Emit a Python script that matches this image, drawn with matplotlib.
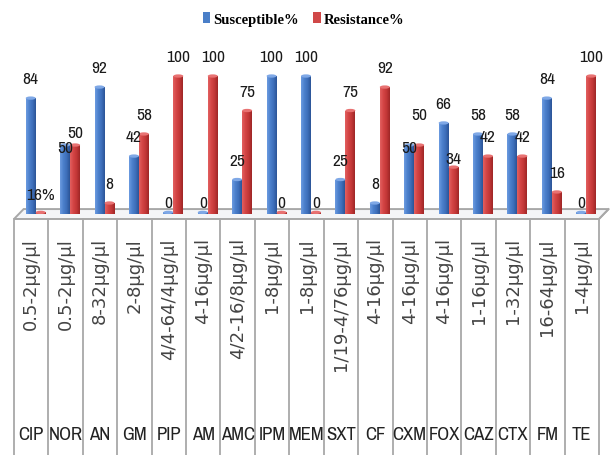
import numpy as np
import matplotlib
matplotlib.use("Agg")
import matplotlib.pyplot as plt
from matplotlib.colors import LinearSegmentedColormap
from matplotlib.patches import Polygon, Ellipse, Patch

# ---------------- DATA ----------------
drugs = ["CIP", "NOR", "AN", "GM", "PIP", "AM", "AMC", "IPM", "MEM",
         "SXT", "CF", "CXM", "FOX", "CAZ", "CTX", "FM", "TE"]
ranges = ["0.5-2µg/µl", "0.5-2µg/µl", "8-32µg/µl", "2-8µg/µl", "4/4-64/4µg/µl",
          "4-16µg/µl", "4/2-16/8µg/µl", "1-8µg/µl", "1-8µg/µl", "1/19-4/76µg/µl",
          "4-16µg/µl", "4-16µg/µl", "4-16µg/µl", "1-16µg/µl", "1-32µg/µl",
          "16-64µg/µl", "1-4µg/µl"]
susceptible = [84, 50, 92, 42, 0, 0, 25, 100, 100, 25, 8, 50, 66, 58, 58, 84, 0]
resistance = [0, 50, 8, 58, 100, 100, 75, 0, 0, 75, 92, 50, 34, 42, 42, 16, 100]
sus_text = [str(v) for v in susceptible]
res_text = ["16%"] + [str(v) for v in resistance[1:]]

# ---------------- STYLE ----------------
blue_cmap = LinearSegmentedColormap.from_list("b", ["#6C9BE0", "#4C80CC", "#3E6FBA", "#2B5497"])
red_cmap = LinearSegmentedColormap.from_list("r", ["#E26060", "#D44545", "#C23737", "#9E2626"])
blue_cap = "#7FA8E6"
red_cap = "#E87272"
narrow = ["Archivo Narrow", "DejaVu Sans"]
grid_col = "#A8A8A8"

bar_w = 0.29
shift = 0.13
label_dy = 14
zero_dy = 8
blue_dy = {1: -2, 11: -2}
red_dy = {1: 9, 11: 22, 12: 6}

fig = plt.figure(figsize=(6.13, 4.56), dpi=100)
ax = fig.add_axes([0, 0, 1, 1])
ax.axis("off")

x = np.arange(len(drugs))
xb = x + shift - bar_w / 2
xr = x + shift + bar_w / 2

grad = np.linspace(0, 1, 64).reshape(1, -1)


def cyl_bars(xs, vals, cmap, cap):
    hs = [max(v, 1.2) for v in vals]
    bars = ax.bar(xs, hs, bar_w, color=cmap(0.5), linewidth=0, zorder=3)
    for b, xx, h in zip(bars, xs, hs):
        im = ax.imshow(grad, extent=(xx - bar_w / 2, xx + bar_w / 2, 0, h),
                       cmap=cmap, aspect="auto", zorder=3.5, interpolation="bilinear")
        im.set_clip_path(b)
        ax.add_patch(Ellipse((xx, h), bar_w, 2.4, facecolor=cap, edgecolor="none", zorder=4))


# floor
floor_front = -3.6
floor_back = 3.6
depth = 0.28
ax.add_patch(Polygon([(-0.5, floor_front), (16.5, floor_front),
                      (16.5 + depth, floor_back), (-0.5 + depth, floor_back)],
                     closed=True, facecolor="#F4F5F7", edgecolor=grid_col, lw=1.4, zorder=1))

cyl_bars(xb, susceptible, blue_cmap, blue_cap)
cyl_bars(xr, resistance, red_cmap, red_cap)

# data labels
for i in range(len(drugs)):
    dy = blue_dy.get(i, zero_dy if susceptible[i] == 0 else label_dy)
    ax.text(xb[i], susceptible[i] + dy, sus_text[i], ha="center", va="center",
            fontsize=12.5, family=narrow, color="#1A1A1A", zorder=6)
    dy = red_dy.get(i, label_dy if resistance[i] != 0 or i == 0 else zero_dy)
    ax.text(xr[i], resistance[i] + dy, res_text[i], ha="center", va="center",
            fontsize=12.5, family=narrow, color="#1A1A1A", zorder=6)

# table below the chart
tab_top = floor_front
tab_bottom = -180
for k in range(len(drugs) + 1):
    ax.plot([k - 0.5, k - 0.5], [tab_top, tab_bottom], color=grid_col, lw=1.3, zorder=2)
ax.plot([16.5, 16.5 + depth], [tab_top, floor_back], color=grid_col, lw=1.3, zorder=2)
for i in range(len(drugs)):
    ax.text(x[i], -16.7, ranges[i], rotation=90, ha="center", va="top",
            fontsize=13, color="#444444")
    ax.text(x[i], -159.4, drugs[i], ha="center", va="center",
            fontsize=13.5, family=narrow, color="#222222")

# legend
handles = [Patch(facecolor="#4A7FC8", label="Susceptible%"),
           Patch(facecolor="#D04848", label="Resistance%")]
fig.legend(handles=handles, loc="center", bbox_to_anchor=(0.495, 0.956), ncol=2,
           frameon=False, handlelength=0.5, handleheight=0.8, handletextpad=0.2,
           columnspacing=1.0, prop={"family": "Liberation Serif", "weight": "bold", "size": 10.5})

ax.set_xlim(-0.907, 16.907)
ax.set_ylim(-174.6, 155.8)

fig.savefig("out.png", dpi=100)
